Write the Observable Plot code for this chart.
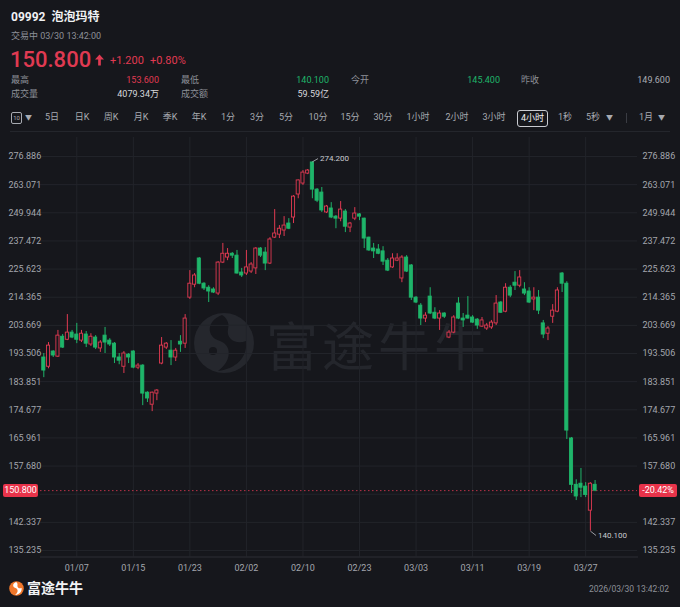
<!DOCTYPE html>
<html><head><meta charset="utf-8">
<script src="https://cdn.jsdelivr.net/npm/d3@7"></script>
<script src="https://cdn.jsdelivr.net/npm/@observablehq/plot@0.6"></script>
<style>
html,body{margin:0;padding:0;background:#16171c;overflow:hidden;}
#root{position:relative;width:680px;height:607px;overflow:hidden;background:#16171c;font-family:Roboto,"Noto Sans CJK SC",sans-serif;color:#e8e9ec;}
.a{position:absolute;white-space:nowrap;line-height:1;}
.g{color:#8d9098;font-size:9px;}
.r{text-align:right;}
.tb{position:absolute;top:113px;font-size:9px;color:#a7aab1;line-height:1;white-space:nowrap;}
#chart{position:absolute;left:0;top:132px;}
</style></head><body><div id="root"></div>
<script>
// ---- data (4-hour candles, 09992 泡泡玛特) ----
const opens = [192.1,188.9,194.2,192.4,199.5,198.4,201.0,200.3,198.1,200.3,196.7,199.2,195.3,199.9,198.1,197.0,192.1,188.9,193.1,194.2,188.6,189.3,180.2,176.3,179.9,190.0,195.6,194.5,192.1,197.7,197.0,214.2,219.3,230.0,219.7,218.1,217.4,215.8,228.3,230.4,232.0,231.2,224.2,223.8,224.6,225.9,234.2,232.5,227.9,238.9,240.2,242.0,245.1,247.8,258.4,263.6,268.4,273.9,260.7,259.3,250.1,251.9,248.2,247.3,250.5,243.3,247.3,249.2,247.3,238.9,234.2,233.8,233.0,229.1,226.3,229.1,221.8,230.4,227.1,214.2,211.1,206.2,214.6,208.4,206.2,208.1,199.2,201.0,211.9,206.2,207.3,206.6,205.8,203.2,202.5,202.9,204.4,212.3,208.8,218.1,220.1,218.9,217.4,216.6,213.5,214.2,204.4,200.6,206.9,208.8,223.8,219.7,165.8,152.4,152.7,151.9,145.4,152.4];
const highs = [193.5,197.4,194.5,201.8,200.3,207.7,201.8,204.4,201.8,201.4,200.6,199.9,198.1,202.9,198.8,197.4,193.5,194.2,193.5,194.5,190.0,189.6,180.5,180.4,181.2,199.2,197.4,198.1,195.3,199.9,207.7,225.0,223.8,230.4,220.1,218.9,218.1,228.7,236.4,234.2,232.5,233.4,225.9,233.4,228.3,234.6,234.6,234.6,238.9,251.4,244.2,248.2,247.3,257.9,265.3,269.9,270.4,274.2,261.2,261.7,253.3,254.6,248.7,255.1,251.4,245.6,252.3,249.6,247.5,239.1,236.4,235.9,235.0,230.0,232.0,232.0,231.2,231.2,227.5,214.6,211.9,208.4,218.1,210.3,209.2,208.4,201.8,207.3,214.2,208.1,214.6,207.3,206.2,206.6,204.4,205.5,215.0,212.7,219.7,218.9,224.6,225.0,220.1,218.1,218.1,217.0,205.5,203.2,211.5,218.1,224.2,220.5,166.1,153.8,157.0,153.0,153.0,153.6];
const lows = [185.2,188.2,192.1,192.1,195.3,198.1,198.8,197.0,197.4,195.6,196.0,194.9,193.9,193.5,196.0,190.0,189.6,186.6,190.0,188.2,187.9,176.0,177.0,174.1,177.6,189.6,194.9,189.3,190.7,193.9,195.3,213.5,218.1,219.3,217.0,212.3,215.8,215.0,227.9,229.1,230.0,223.6,222.2,223.0,223.8,223.4,230.4,225.0,227.5,238.5,238.5,239.4,242.4,245.1,256.4,262.7,267.9,256.4,254.6,250.1,249.6,247.3,242.8,245.9,241.1,241.1,246.4,246.4,234.2,233.0,230.0,231.6,227.1,224.6,225.9,228.7,220.1,224.2,213.1,211.9,203.6,204.7,207.7,205.8,201.8,206.2,198.8,200.6,205.8,202.9,206.0,204.4,202.2,202.9,201.8,202.2,203.6,208.1,208.4,214.2,217.0,218.1,215.0,211.9,209.2,207.7,198.8,198.1,204.4,208.4,216.2,165.5,150.0,148.1,148.9,148.9,140.1,150.5];
const closes = [187.6,196.3,192.8,199.9,195.6,201.0,199.2,198.4,200.6,197.0,199.5,195.6,197.4,197.4,196.7,192.1,191.0,193.5,192.1,188.6,189.3,179.9,178.3,180.2,180.9,196.3,197.0,192.1,194.5,196.7,206.2,219.7,223.0,219.7,217.8,216.6,216.2,228.3,232.0,232.0,231.2,223.8,223.0,226.3,227.5,234.2,231.2,227.9,238.1,240.7,242.8,244.2,242.8,257.4,265.1,268.9,269.9,260.7,255.5,251.0,252.8,247.8,247.3,251.4,243.7,245.1,249.6,248.2,238.5,233.4,233.0,232.0,228.7,225.0,230.0,230.0,230.4,224.6,214.2,212.3,206.2,207.3,208.1,206.2,208.1,206.9,201.0,206.6,206.2,205.5,206.2,204.7,203.6,205.5,203.6,204.7,211.9,208.4,218.1,215.0,218.9,222.2,215.8,212.3,214.2,209.2,200.3,202.5,209.2,217.0,219.7,168.2,152.4,149.2,151.6,149.6,152.7,150.8];
const xTickIndex = [7,19,31,43,55,67,79,91,103,115];
const xTickLabels = ["01/07","01/15","01/23","02/02","02/10","02/23","03/03","03/11","03/19","03/27"];
const yTicks = [276.886,263.071,249.944,237.472,225.623,214.365,203.669,193.506,183.851,174.677,165.961,157.680,149.810,142.337,135.235];
const yTickLabelsShown = [276.886,263.071,249.944,237.472,225.623,214.365,203.669,193.506,183.851,174.677,165.961,157.680,142.337,135.235];
const lastPrice = 150.8;
const lastChangeLabel = "-20.42%";
const peakLabel = {i: 57, v: 274.2, text: "274.200"};
const lowLabel = {i: 116, v: 140.1, text: "140.100"};

const BG = "#16171c", RED = "#e03a52", GREEN = "#1fb56a", GRID = "#22242a";
const candles = opens.map((o, i) => ({i, open: o, high: highs[i], low: lows[i], close: closes[i], up: closes[i] >= o}));

const root = document.getElementById("root");
function el(html){ root.insertAdjacentHTML("beforeend", html); }

// ---- header ----
el(`<div class="a" style="left:11px;top:11px;font-size:12px;font-weight:700;color:#f0f1f3">09992&nbsp;&nbsp;泡泡玛特</div>`);
el(`<div class="a g" style="left:11px;top:32px;">交易中 03/30 13:42:00</div>`);
el(`<div class="a" style="left:10px;top:49px;font-size:22px;font-weight:500;color:${RED}">150.800</div>`);
el(`<svg class="a" style="left:95px;top:54px" width="9" height="12" viewBox="0 0 10 12"><path d="M5 0 L10 5.5 L6.5 5.5 L6.5 12 L3.5 12 L3.5 5.5 L0 5.5 Z" fill="${RED}"/></svg>`);
el(`<div class="a" style="left:110px;top:55px;font-size:11px;color:${RED}">+1.200</div>`);
el(`<div class="a" style="left:150px;top:55px;font-size:11px;color:${RED}">+0.80%</div>`);
const stats = [
  ["最高", "153.600", RED, 11, 159, 76], ["最低", "140.100", GREEN, 181, 329, 76],
  ["今开", "145.400", GREEN, 351, 500, 76], ["昨收", "149.600", "#a9acb3", 521, 670, 76],
  ["成交量", "4079.34万", "#d9dade", 11, 159, 90], ["成交额", "59.59亿", "#d9dade", 181, 329, 90]
];
for (const [k, v, c, x, xr, y] of stats) {
  el(`<div class="a g" style="left:${x}px;top:${y}px;">${k}</div>`);
  el(`<div class="a r" style="right:${680 - xr}px;top:${y}px;font-size:9px;color:${c}">${v}</div>`);
}
// ---- toolbar ----
el(`<div class="a" style="left:11px;top:112px;width:9px;height:10px;border:1px solid #a7aab1;border-radius:2px;font-size:6px;color:#a7aab1;text-align:center;line-height:10px">10</div>`);
el(`<div class="tb" style="left:25px;font-size:7px;top:115px">▼</div>`);
const tools = [["5日",52],["日K",82],["周K",111],["月K",141],["季K",170],["年K",199],["1分",228],["3分",257],["5分",286],["10分",318],["15分",350],["30分",383],["1小时",418],["2小时",457],["3小时",494],["1秒",565],["5秒",593],["1月",646]];
for (const [t, cx] of tools) el(`<div class="tb" style="left:${cx}px;transform:translateX(-50%)">${t}</div>`);
el(`<div class="a" style="left:517px;top:110px;width:29px;height:15px;border:1px solid #c9cbd1;border-radius:3px;font-size:9px;color:#f2f3f5;text-align:center;line-height:15px">4小时</div>`);
el(`<div class="tb" style="left:606px;font-size:7px;top:115px">▼</div>`);
el(`<div class="a" style="left:626px;top:113px;width:1px;height:10px;background:#3a3c43"></div>`);
el(`<div class="tb" style="left:658px;font-size:7px;top:115px">▼</div>`);
el(`<div class="a" style="left:10px;top:131px;width:660px;height:1px;background:#24262c"></div>`);

// ---- watermark ----
el(`<svg class="a" style="left:192px;top:311px" width="64" height="64" viewBox="0 0 64 64">
  <circle cx="32" cy="32" r="30" fill="#25272d"/>
  <path d="M30 4 C14 10 14 26 28 30 C40 34 40 50 26 60 C44 58 56 46 54 30 C44 34 34 28 36 18 C38 12 34 6 30 4 Z" fill="#16171c"/>
  <circle cx="21" cy="40" r="4" fill="#16171c"/>
</svg>`);
el(`<div class="a" style="left:266px;top:318px;font-size:52px;font-family:'Noto Sans CJK SC',sans-serif;color:#24262c;letter-spacing:4px">富途牛牛</div>`);

// ---- chart ----
const yDomain = [133.65, 286.62];
const chart = Plot.plot({
  width: 680, height: 450,
  marginTop: 5, marginBottom: 25.5, marginLeft: 40, marginRight: 43,
  style: {background: "transparent", color: "#a3a6ad", fontSize: "9px", fontFamily: "Roboto, sans-serif"},
  x: {type: "linear", domain: [-0.7, 126], axis: null, label: null},
  y: {type: "log", domain: yDomain, axis: null, label: null},
  color: {type: "identity"},
  marks: [
    Plot.gridY(yTicks, {stroke: GRID, strokeOpacity: 1}),
    Plot.gridX(xTickIndex, {stroke: GRID, strokeOpacity: 1}),
    Plot.frame({anchor: "bottom", stroke: "#2c2e35"}),
    Plot.axisY(yTickLabelsShown, {anchor: "left", label: null, tickSize: 0, tickPadding: 0, dx: -32, textAnchor: "start", tickFormat: d => d.toFixed(3), fill: "#a3a6ad"}),
    Plot.axisY(yTickLabelsShown, {anchor: "right", label: null, tickSize: 0, tickPadding: 5, textAnchor: "start", tickFormat: d => d.toFixed(3), fill: "#a3a6ad"}),
    Plot.axisX(xTickIndex, {anchor: "bottom", label: null, tickSize: 0, tickPadding: 8, tickFormat: d => xTickLabels[xTickIndex.indexOf(d)], fill: "#a3a6ad"}),
    Plot.ruleY([lastPrice], {stroke: RED, strokeOpacity: 0.8, strokeDasharray: "1.5,2.5"}),
    Plot.ruleX(candles, {x: "i", y1: "low", y2: "high", stroke: d => d.up ? RED : GREEN, strokeWidth: 1}),
    Plot.rect(candles, {x1: d => d.i - 0.33, x2: d => d.i + 0.33, y1: "open", y2: "close", fill: d => d.up ? BG : GREEN, stroke: d => d.up ? RED : GREEN, strokeWidth: 0.9}),
    Plot.link([peakLabel], {x1: "i", y1: "v", x2: d => d.i + 1.2, y2: d => d.v * 1.006, stroke: "#b9bbc1", strokeWidth: 0.8}),
    Plot.text([peakLabel], {x: d => d.i + 1.6, y: d => d.v * 1.006, text: "text", textAnchor: "start", fill: "#c9cbd0", fontSize: 8}),
    Plot.link([lowLabel], {x1: "i", y1: "v", x2: d => d.i + 1.2, y2: d => d.v * 0.992, stroke: "#b9bbc1", strokeWidth: 0.8}),
    Plot.text([lowLabel], {x: d => d.i + 1.6, y: d => d.v * 0.992, text: "text", textAnchor: "start", fill: "#c9cbd0", fontSize: 8})
  ]
});
chart.id = "chart";
root.appendChild(chart);

// price tags on the dashed last-price line
const py = chart.scale("y").apply(lastPrice) + 132;
el(`<div class="a" style="left:3px;top:${py - 6.5}px;width:35px;height:13px;background:#e8334a;border-radius:2px;color:#fff;font-size:9px;line-height:13px;text-align:center">${lastPrice.toFixed(3)}</div>`);
el(`<div class="a" style="left:639px;top:${py - 6.5}px;width:38px;height:13px;background:#e8334a;border-radius:2px;color:#fff;font-size:9px;line-height:13px;text-align:center">${lastChangeLabel}</div>`);

// ---- footer ----
el(`<svg class="a" style="left:9px;top:581px" width="15" height="15" viewBox="0 0 64 64">
  <circle cx="32" cy="32" r="31" fill="#f0772b"/>
  <path d="M30 4 C14 10 14 26 28 30 C40 34 40 50 26 60 C44 58 56 46 54 30 C44 34 34 28 36 18 C38 12 34 6 30 4 Z" fill="#fff"/>
</svg>`);
el(`<div class="a" style="left:27px;top:580px;font-size:14px;font-weight:700;color:#f2f3f5;font-family:'Noto Sans CJK SC',sans-serif">富途牛牛</div>`);
el(`<div class="a g r" style="right:11px;top:585px;font-size:8.5px">2026/03/30 13:42:02</div>`);
</script></body></html>
